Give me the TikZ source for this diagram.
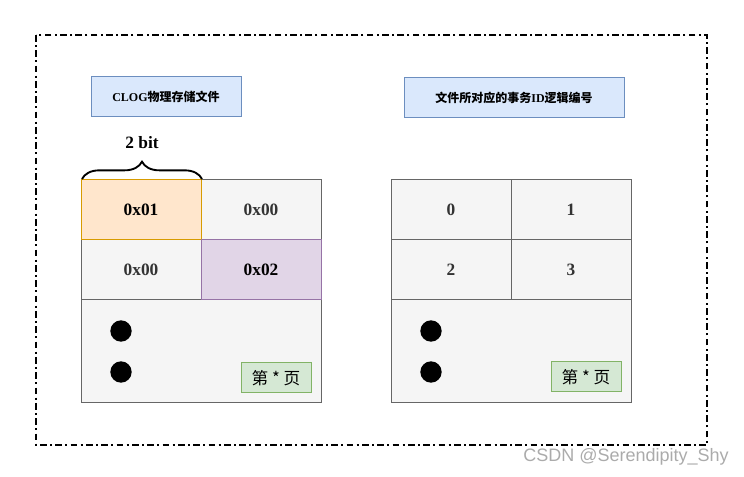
\documentclass[tikz,border=0pt]{standalone}
\usepackage{fontspec}
\setmainfont{Liberation Serif}
\newfontfamily\cjk{Noto Sans CJK SC}
\newfontfamily\wm{Liberation Sans}
\usetikzlibrary{decorations.pathreplacing}
\definecolor{bluefill}{HTML}{DAE8FC}
\definecolor{bluedraw}{HTML}{6C8EBF}
\definecolor{orfill}{HTML}{FFE6CC}
\definecolor{ordraw}{HTML}{D79B00}
\definecolor{pufill}{HTML}{E1D5E7}
\definecolor{pudraw}{HTML}{9673A6}
\definecolor{grfill}{HTML}{F5F5F5}
\definecolor{grdraw}{HTML}{666666}
\definecolor{gnfill}{HTML}{D5E8D4}
\definecolor{gndraw}{HTML}{82B366}
\definecolor{txt}{HTML}{333333}
\tikzset{
  base/.style={rectangle, inner sep=0pt, outer sep=0pt, line width=0.75pt},
  titlebox/.style={base, fill=bluefill, draw=bluedraw, font=\bfseries\fontsize{9pt}{10pt}\selectfont},
  cell/.style={base, minimum width=90pt, minimum height=45pt, font=\bfseries\fontsize{13pt}{15pt}\selectfont},
  graycell/.style={cell, fill=grfill, draw=grdraw, text=txt},
  orcell/.style={cell, fill=orfill, draw=ordraw},
  pucell/.style={cell, fill=pufill, draw=pudraw},
  lower/.style={base, fill=grfill, draw=grdraw, minimum width=180pt, minimum height=77.25pt},
  pagebox/.style={base, fill=gnfill, draw=gndraw, minimum width=52.5pt, minimum height=22.5pt, font=\cjk\fontsize{12.5pt}{14pt}\selectfont},
  blackdot/.style={circle, fill=black, inner sep=0pt, minimum size=16pt},
}
\begin{document}
\begin{tikzpicture}[x=0.75pt, y=-0.75pt]
\useasboundingbox (0,0) rectangle (744,477);
% frame
\draw[line width=1.1pt, dash pattern=on 5pt off 2.5pt on 1.5pt off 2.5pt] (36,35) rectangle (707,445);
% titles
\node[titlebox, minimum width=112.5pt, minimum height=30pt] (t1) at (166,97) {CLOG{\cjk 物理存储文件}};
\node[titlebox, minimum width=165pt, minimum height=30pt] (t2) at (514,98) {{\cjk 文件所对应的事务}ID{\cjk 逻辑编号}};
% left grid
\node[lower] (lb) at (201,351.5) {};
\node[graycell] (l12) at (261,210) {0x00};
\node[graycell] (l21) at (141,270) {0x00};
\node[orcell] (l11) at (141,210) {0x01};
\node[pucell] (l22) at (261,270) {0x02};
\node[blackdot] (ld1) at (121,331) {};
\node[blackdot] (ld2) at (121,372) {};
\node[pagebox] (lp) at (276,378) {第 * 页};
% brace
\draw[decorate, decoration={brace, amplitude=13pt}, line width=1.4pt] (82,179) -- (202,179);
\node[font=\bfseries\fontsize{13pt}{15pt}\selectfont] (bl) at (142,143) {2 bit};
% right grid
\node[lower] (rb) at (511,351.5) {};
\node[graycell] (r11) at (451,210) {0};
\node[graycell] (r12) at (571,210) {1};
\node[graycell] (r21) at (451,270) {2};
\node[graycell] (r22) at (571,270) {3};
\node[blackdot] (rd1) at (431,331) {};
\node[blackdot] (rd2) at (431,372) {};
\node[pagebox] (rp) at (586,377) {第 * 页};
% watermark
\node[font=\wm\fontsize{13.5pt}{15pt}\selectfont, text=black!33, anchor=east, inner sep=0pt] (wm) at (729,457) {CSDN @Serendipity\_Shy};
\end{tikzpicture}
\end{document}
